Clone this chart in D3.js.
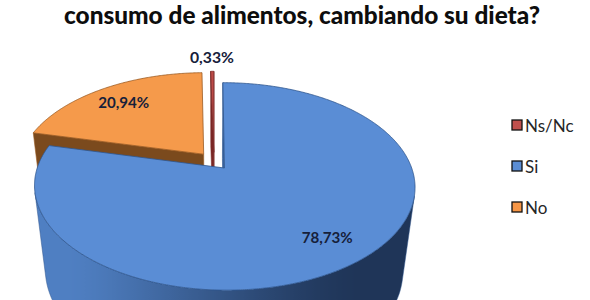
<!DOCTYPE html>
<html><head><meta charset="utf-8">
<script src="https://cdn.jsdelivr.net/npm/d3@7"></script>
<style>body{margin:0;background:#fff}svg{display:block}</style>
</head><body>
<svg id="c" width="590" height="300"></svg>
<script>
// ---- data ----
const title = "consumo de alimentos, cambiando su dieta?";
const categories = ["Ns/Nc", "Si", "No"];          // legend order
const values = [0.33, 78.73, 20.94];                // percent
const valueLabels = ["0,33%", "78,73%", "20,94%"];
const pieOrder = ["Si", "No", "Ns/Nc"];             // clockwise from 12 o'clock

// ---- styles ----
const topColor = {"Ns/Nc": "#BD4A47", "Si": "#5A8DD5", "No": "#F59A4B"};
const edgeColor = {"Ns/Nc": "#7a2a28", "Si": "#2f558d", "No": "#9a5a22"};
const cutColor = {"Ns/Nc": "#7A2624", "Si": "#3a64a0", "No": "#7B4A1D"};
const wallDark = {"Ns/Nc": "#5e1c1b", "Si": "#1f3558", "No": "#5a3412"};
const wallLight = {"Ns/Nc": "#a8403d", "Si": "#4f7fc2", "No": "#c0702c"};
const legendColor = {"Ns/Nc": "#C0504D", "Si": "#5B8DD3", "No": "#F79646"};

const svg = d3.select("#c");
const defs = svg.append("defs");

// ---- 3D perspective projection ----
const cx = 214, cy = 161, D = 4.84, F = 895;
const alpha = Math.asin(0.53), S = Math.sin(alpha), C = Math.cos(alpha);
const T = 0.56;          // pie thickness
const EXPLODE = 0.09;
const cam = [0, D * S, D * C];
function proj(x, h, z) {
  const Yc = h * C - z * S;
  const Zc = D - (h * S + z * C);
  return [cx + F * x / Zc, cy - F * Yc / Zc];
}
// wall shading: dark on the right, light on the left
function shade(phi) {
  const u = (phi - Math.PI * 0.78) / (Math.PI * 0.5);
  const k = Math.max(0, Math.min(1, u));
  return k * k * (3 - 2 * k);
}

const valueOf = Object.fromEntries(categories.map((c, i) => [c, values[i]]));
const labelOf = Object.fromEntries(categories.map((c, i) => [c, valueLabels[i]]));
const arcs = d3.pie().sort(null).value(d => valueOf[d])(pieOrder);

const line = d3.line();
const slices = arcs.map(a => {
  const mid = (a.startAngle + a.endAngle) / 2;
  const ox = EXPLODE * Math.sin(mid), oz = -EXPLODE * Math.cos(mid);
  return {name: a.data, a0: a.startAngle, a1: a.endAngle, mid, ox, oz};
});
// back to front
slices.sort((p, q) => p.oz - q.oz);

function visible(n, p) {
  return n[0] * (cam[0] - p[0]) + n[1] * (cam[1] - p[1]) + n[2] * (cam[2] - p[2]) > 0;
}

const gPie = svg.append("g");
slices.forEach((sl, si) => {
  const g = gPie.append("g");
  const rim = (phi, h) => [sl.ox + Math.sin(phi), h, sl.oz - Math.cos(phi)];
  const P = p => proj(p[0], p[1], p[2]);
  // walls: group consecutive visible samples into runs
  const n = Math.max(4, Math.ceil((sl.a1 - sl.a0) / (Math.PI / 360)));
  const runs = [];
  let cur = null;
  for (let i = 0; i <= n; i++) {
    const phi = sl.a0 + (sl.a1 - sl.a0) * i / n;
    const vis = visible([Math.sin(phi), 0, -Math.cos(phi)], rim(phi, 0));
    if (vis) { if (!cur) { cur = []; runs.push(cur); } cur.push(phi); }
    else cur = null;
  }
  runs.filter(r => r.length > 1).forEach((run, ri) => {
    const top = run.map(phi => P(rim(phi, 0)));
    const bot = run.map(phi => P(rim(phi, -T))).reverse();
    const xs = top.map(p => p[0]);
    const x0 = d3.min(xs), x1 = d3.max(xs);
    const id = `wall-${si}-${ri}`;
    const grad = defs.append("linearGradient").attr("id", id)
      .attr("gradientUnits", "userSpaceOnUse")
      .attr("x1", x0).attr("x2", x1).attr("y1", 0).attr("y2", 0);
    const stops = run.map((phi, i) => ({off: (xs[i] - x0) / Math.max(1e-6, x1 - x0), phi}))
      .sort((a, b) => a.off - b.off);
    grad.selectAll("stop").data(stops).join("stop")
      .attr("offset", d => d.off)
      .attr("stop-color", d => d3.interpolateRgb(wallDark[sl.name], wallLight[sl.name])(shade(d.phi)));
    g.append("path").attr("d", line(top.concat(bot)) + "Z")
      .attr("fill", `url(#${id})`).attr("stroke", edgeColor[sl.name]).attr("stroke-width", 0.5);
  });
  // cut faces
  [[sl.a0, sl.a0 - Math.PI / 2], [sl.a1, sl.a1 + Math.PI / 2]].forEach(([phi, nphi]) => {
    const nrm = [Math.sin(nphi), 0, -Math.cos(nphi)];
    const apex = [sl.ox, 0, sl.oz];
    if (!visible(nrm, apex)) return;
    const pts = [P(apex), P(rim(phi, 0)), P(rim(phi, -T)), P([sl.ox, -T, sl.oz])];
    g.append("path").attr("d", line(pts) + "Z")
      .attr("fill", cutColor[sl.name]).attr("stroke", edgeColor[sl.name]).attr("stroke-width", 0.6);
  });
  // top face
  const m = Math.max(6, Math.ceil((sl.a1 - sl.a0) / (Math.PI / 360)));
  const tpts = [P([sl.ox, 0, sl.oz])];
  for (let i = 0; i <= m; i++) tpts.push(P(rim(sl.a0 + (sl.a1 - sl.a0) * i / m, 0)));
  g.append("path").attr("d", line(tpts) + "Z")
    .attr("fill", topColor[sl.name]).attr("stroke", edgeColor[sl.name]).attr("stroke-width", 0.8)
    .attr("stroke-linejoin", "round");
});

// ---- value labels ----
function fitWidth(sel, target) {
  const w = sel.node().getComputedTextLength();
  sel.attr("font-size", parseFloat(sel.attr("font-size")) * target / w);
}
const labelFont = "Lato, 'Open Sans', sans-serif";
slices.forEach(sl => {
  const small = valueOf[sl.name] < 5;
  const r = small ? 1.22 : 0.78;
  const p = proj(sl.ox + r * Math.sin(sl.mid), 0, sl.oz - r * Math.cos(sl.mid));
  const t = svg.append("text").attr("x", p[0]).attr("y", p[1])
    .attr("text-anchor", "middle").attr("dominant-baseline", "central")
    .attr("font-family", labelFont).attr("font-weight", "bold").attr("font-size", 17)
    .attr("fill", "#16203a").text(labelOf[sl.name]);
  fitWidth(t, small ? 44 : 51);
});

// ---- title ----
const tt = svg.append("text").attr("x", 302).attr("y", 24).attr("text-anchor", "middle")
  .attr("font-family", labelFont).attr("font-weight", "900").attr("font-size", 26)
  .attr("fill", "#0d0d0d").text(title);
fitWidth(tt, 476);

// ---- legend ----
const lg = svg.append("g").attr("transform", "translate(512,0)");
const ly = d3.scalePoint().domain(categories).range([125, 207]);
const items = lg.selectAll("g").data(categories).join("g")
  .attr("transform", d => `translate(0,${ly(d)})`);
items.append("rect").attr("x", 0).attr("y", -5).attr("width", 10).attr("height", 10)
  .attr("fill", d => legendColor[d]).attr("stroke", "#111").attr("stroke-width", 1.3);
items.append("text").attr("x", 13).attr("y", 0).attr("dominant-baseline", "central")
  .attr("font-family", labelFont).attr("font-size", 17).attr("fill", "#262626").text(d => d);
</script>
</body></html>
